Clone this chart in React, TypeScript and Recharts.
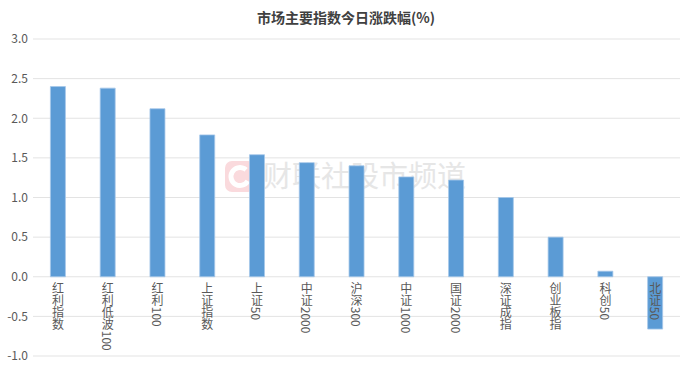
import React from 'react';
import { BarChart, Bar, XAxis, YAxis, CartesianGrid, LabelList } from 'recharts';

const categories = ['红利指数', '红利低波100', '红利100', '上证指数', '上证50', '中证2000', '沪深300', '中证1000', '国证2000', '深证成指', '创业板指', '科创50', '北证50'];
const changes = [2.40, 2.38, 2.12, 1.79, 1.54, 1.44, 1.40, 1.26, 1.22, 1.00, 0.50, 0.07, -0.66];
const yTicks = [-1, -0.5, 0, 0.5, 1, 1.5, 2, 2.5, 3];

const data = categories.map((name, i) => ({ name, value: changes[i] }));

const FONT = '"Noto Sans CJK SC", "Noto Sans", sans-serif';

// category names stand under the zero line, written top to bottom
const VerticalLabel = (props: any) => {
  const vb = props.viewBox || props;
  const { x, y, width, height } = vb;
  const v = changes[props.index];
  const base = v >= 0 ? Math.max(y, y + height) : Math.min(y, y + height);
  return (
    <text
      x={x + width / 2}
      y={base + 6}
      fill="#595959"
      fontSize={12}
      fontFamily={FONT}
      textAnchor="start"
      style={{ writingMode: 'vertical-rl' } as any}
    >
      {props.value}
    </text>
  );
};

export default function App() {
  return (
    <div style={{ position: 'fixed', left: 0, top: 0, width: 692, height: 369, background: '#fff', fontFamily: FONT }}>
      <div style={{ position: 'absolute', left: 0, top: 7, width: 692, textAlign: 'center', fontSize: 14, fontWeight: 'bold', color: '#404040', lineHeight: '20px' }}>
        市场主要指数今日涨跌幅(%)
      </div>
      {/* watermark */}
      <svg width={692} height={369} style={{ position: 'absolute', left: 0, top: 0 }}>
        <rect x={225} y={161} width={30} height={31} rx={7} fill="#fadadd" />
        <circle cx={240} cy={176.5} r={9} fill="none" stroke="#ffffff" strokeWidth={5} strokeDasharray="44 13" transform="rotate(30 240 176.5)" />
        <text x={263} y={187} fontSize={29} fill="#e6e6e6" fontFamily={FONT}>财联社股市频道</text>
      </svg>
      <div style={{ position: 'absolute', left: 0, top: 0 }}>
        <BarChart width={692} height={369} data={data} margin={{ top: 39, right: 12, bottom: 13, left: 0 }} barCategoryGap="35%">
          <CartesianGrid vertical={false} stroke="#e3e3e3" />
          <XAxis dataKey="name" hide />
          <YAxis
            width={33}
            domain={[-1, 3]}
            ticks={yTicks}
            interval={0}
            axisLine={false}
            tickLine={false}
            tickSize={0}
            tickMargin={5}
            tickFormatter={(v: number) => v.toFixed(1)}
            tick={{ fill: '#595959', fontSize: 12, fontFamily: FONT }}
          />
          <Bar dataKey="value" fill="#5B9BD5" stroke="#a6c8ea" strokeWidth={0.8} isAnimationActive={false}>
            <LabelList dataKey="name" content={VerticalLabel} />
          </Bar>
        </BarChart>
      </div>
    </div>
  );
}
